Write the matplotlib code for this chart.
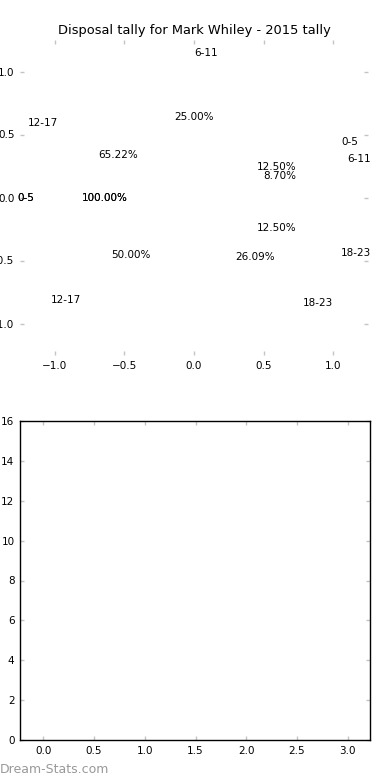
import matplotlib
matplotlib.use("Agg")
import matplotlib.pyplot as plt

# %% Data

title = "Disposal tally for Mark Whiley - 2015 tally"

# each pie got drawn on top of the previous one, all in white
pie_single_labels = ["0-5"]
pie_single_counts = [1]

pie_eight_labels = ["0-5", "6-11", "12-17", "18-23"]
pie_eight_counts = [1, 2, 4, 1]

pie_season_labels = ["6-11", "12-17", "18-23"]
pie_season_counts = [2, 15, 6]

pie_ticks = [-1.0, -0.5, 0.0, 0.5, 1.0]
bar_xticks = [0.0, 0.5, 1.0, 1.5, 2.0, 2.5, 3.0]
bar_yticks = [0, 2, 4, 6, 8, 10, 12, 14, 16]

# %% Figure

fig = plt.figure(figsize=(3.9, 7.8), dpi=100)
ax_pie = fig.add_axes([20 / 390, 1 - 355 / 780, 348 / 390, 315 / 780])
ax_bar = fig.add_axes([20 / 390, 40 / 780, 350 / 390, 319 / 780])

text_size = 7.5
tick_grey = "#c4c4c4"


def draw_pie(labels, counts):
    _, texts, _ = ax_pie.pie(
        counts,
        labels=labels,
        autopct="%.2f%%",
        radius=1.07,
        labeldistance=1.07,
        colors=["white"] * len(counts),
        wedgeprops={"linewidth": 0},
        textprops={"fontsize": text_size},
        frame=True,
    )
    # label sitting straight on top goes to the right, like the old version
    for t in texts:
        if abs(t.get_position()[0]) < 1e-6:
            t.set_ha("left")


draw_pie(pie_single_labels, pie_single_counts)
draw_pie(pie_single_labels, pie_single_counts)
draw_pie(pie_eight_labels, pie_eight_counts)
draw_pie(pie_season_labels, pie_season_counts)

ax_pie.set_aspect("auto")
ax_pie.set_xlim(-1.25, 1.25)
ax_pie.set_ylim(-1.25, 1.25)
ax_pie.set_xticks(pie_ticks)
ax_pie.set_yticks(pie_ticks)
for s in ax_pie.spines.values():
    s.set_visible(False)
ax_pie.set_title(title, fontsize=9.4, pad=4)

ax_bar.set_xlim(-0.23, 3.22)
ax_bar.set_ylim(0, 16)
ax_bar.set_xticks(bar_xticks)
ax_bar.set_yticks(bar_yticks)
for s in ax_bar.spines.values():
    s.set_linewidth(1)

for ax in (ax_pie, ax_bar):
    ax.tick_params(
        direction="in", length=3, width=1, color=tick_grey,
        labelsize=text_size, pad=4,
        top=True, right=True, bottom=True, left=True,
    )

fig.text(0.0, 0.009, "Dream-Stats.com", color="#999999", fontsize=9)

fig.savefig("out.png", dpi=100)
